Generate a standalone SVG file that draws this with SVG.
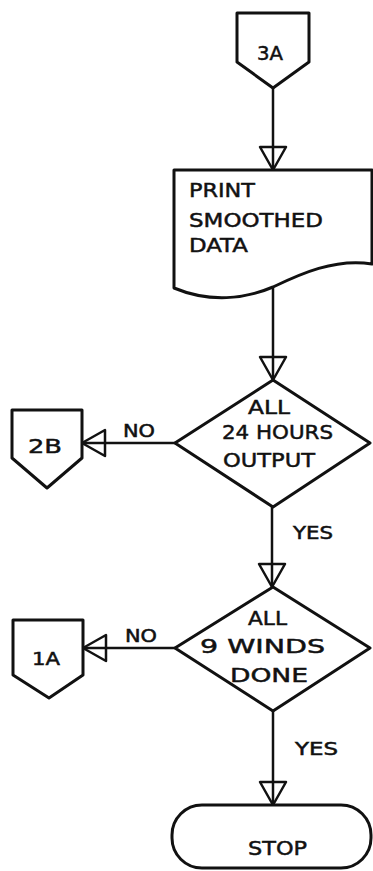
<svg xmlns="http://www.w3.org/2000/svg" width="373" height="871" viewBox="0 0 373 871">
  <style>
    .shape { fill: #ffffff; stroke: #111111; stroke-width: 3; stroke-linejoin: round; }
    .wire { fill: none; stroke: #111111; stroke-width: 2.5; }
    .lbl { font-family: "DejaVu Sans", "Liberation Sans", sans-serif; fill: #111111; stroke: #111111; stroke-width: 0.5; }
    .big { font-size: 20px; }
    .small { font-size: 17px; }
  </style>
  <defs>
    <!-- open triangle head; the connector line runs through it to the tip -->
    <marker id="head" markerUnits="userSpaceOnUse" viewBox="-2 -16 27 32" refX="23" refY="0" markerWidth="27" markerHeight="32" orient="auto" overflow="visible">
      <path d="M0,-13 L23,0 L0,13 Z" fill="none" stroke="#111111" stroke-width="2.5" stroke-linejoin="round"/>
    </marker>
  </defs>
  <rect width="373" height="871" fill="#ffffff"/>

  <g id="connectors">
    <line class="wire" x1="273" y1="88" x2="273" y2="170" marker-end="url(#head)"/>
    <line class="wire" x1="273" y1="287" x2="273" y2="380" marker-end="url(#head)"/>
    <line class="wire" x1="175" y1="443" x2="82" y2="443" marker-end="url(#head)"/>
    <line class="wire" x1="272" y1="507" x2="272" y2="587" marker-end="url(#head)"/>
    <line class="wire" x1="175" y1="648" x2="83" y2="648" marker-end="url(#head)"/>
    <line class="wire" x1="273" y1="711" x2="273" y2="805" marker-end="url(#head)"/>
    <text class="lbl small" x="123" y="437" textLength="32" lengthAdjust="spacingAndGlyphs">NO</text>
    <text class="lbl small" x="293" y="539" textLength="40" lengthAdjust="spacingAndGlyphs">YES</text>
    <text class="lbl small" x="125" y="642" textLength="32" lengthAdjust="spacingAndGlyphs">NO</text>
    <text class="lbl small" x="295" y="755" textLength="43" lengthAdjust="spacingAndGlyphs">YES</text>
  </g>

  <g id="conn-3A">
    <polygon class="shape" points="237,13 309,13 309,62 273,88 237,62"/>
    <text class="lbl big" x="257" y="60" textLength="26" lengthAdjust="spacingAndGlyphs">3A</text>
  </g>

  <g id="print-data">
    <path class="shape" d="M174,170 L372,170 L372,264 C335,258 300,274 273,287 C245,299 210,303 174,288 Z"/>
    <text class="lbl big" x="189" y="197" textLength="66" lengthAdjust="spacingAndGlyphs">PRINT</text>
    <text class="lbl big" x="189" y="227" textLength="134" lengthAdjust="spacingAndGlyphs">SMOOTHED</text>
    <text class="lbl big" x="189" y="252" textLength="59" lengthAdjust="spacingAndGlyphs">DATA</text>
  </g>

  <g id="check-hours">
    <polygon class="shape" points="273,380 370,443 273,507 175,443"/>
    <text class="lbl big" x="248" y="414" textLength="42" lengthAdjust="spacingAndGlyphs">ALL</text>
    <text class="lbl big" x="222" y="439" textLength="111" lengthAdjust="spacingAndGlyphs">24 HOURS</text>
    <text class="lbl big" x="223" y="467" textLength="92" lengthAdjust="spacingAndGlyphs">OUTPUT</text>
  </g>

  <g id="conn-2B">
    <polygon class="shape" points="12,410 82,410 82,458 47,488 12,458"/>
    <text class="lbl big" x="28" y="453" textLength="34" lengthAdjust="spacingAndGlyphs">2B</text>
  </g>

  <g id="check-winds">
    <polygon class="shape" points="273,587 370,648 273,711 175,648"/>
    <text class="lbl big" x="248" y="625" textLength="39" lengthAdjust="spacingAndGlyphs">ALL</text>
    <text class="lbl big" x="200" y="653" textLength="125" lengthAdjust="spacingAndGlyphs">9 WINDS</text>
    <text class="lbl big" x="230" y="682" textLength="78" lengthAdjust="spacingAndGlyphs">DONE</text>
  </g>

  <g id="conn-1A">
    <polygon class="shape" points="13,620 83,620 83,675 49,698 13,675"/>
    <text class="lbl small" x="32" y="665" textLength="28" lengthAdjust="spacingAndGlyphs">1A</text>
  </g>

  <g id="stop">
    <rect class="shape" x="172" y="805" width="199" height="63" rx="30" ry="30"/>
    <text class="lbl big" x="248" y="855" textLength="59" lengthAdjust="spacingAndGlyphs">STOP</text>
  </g>
</svg>
